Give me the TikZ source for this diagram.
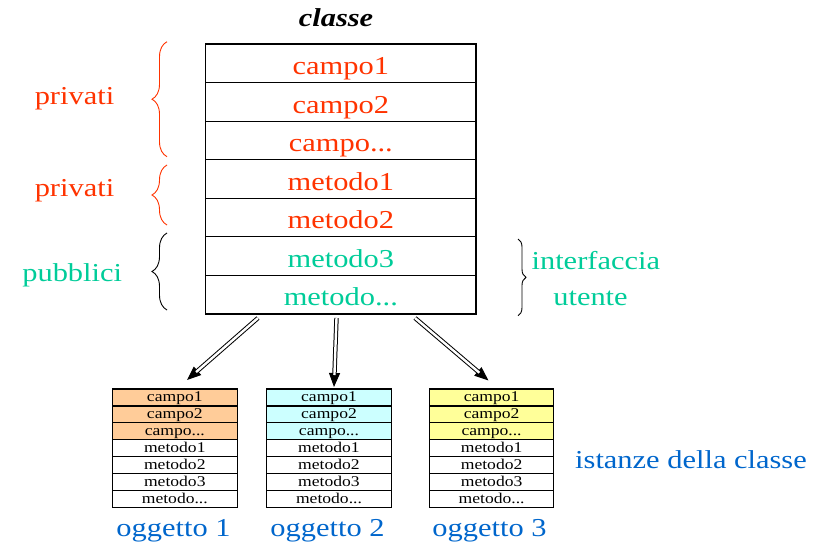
\documentclass[tikz,border=0pt]{standalone}
\usepackage{fontspec}
\setmainfont{Liberation Serif}[FakeStretch=1.18]
\usetikzlibrary{arrows.meta,decorations.pathreplacing}

\definecolor{privred}{HTML}{FF3300}
\definecolor{pubgreen}{HTML}{00CC99}
\definecolor{instblue}{HTML}{0066CC}
\definecolor{fillA}{HTML}{FFCC99}
\definecolor{fillB}{HTML}{CCFFFF}
\definecolor{fillC}{HTML}{FFFF99}

\newcommand\bigfont{\fontsize{25.8bp}{30bp}\selectfont}
\newcommand\smallfont{\fontsize{14.9bp}{17bp}\selectfont}

\tikzset{
  classrow/.style={draw, line width=1.1bp, minimum width=270.3bp,
    minimum height=38.57bp, inner sep=0pt, outer sep=0pt,
    text height=22.4bp, text depth=0pt, font=\bigfont, anchor=north west},
  objrow/.style={draw, line width=1.1bp, minimum width=124.6bp,
    minimum height=16.96bp, inner sep=0pt, outer sep=0pt,
    text height=9bp, text depth=0pt, font=\smallfont, anchor=north west},
  txt/.style={font=\bigfont, anchor=base, inner sep=0pt},
  sidebrace/.style={decorate, decoration={brace, amplitude=#1}, line width=0.9bp},
  % arrow head drawn first, double shaft laid over it
  inherittip/.style={line width=1bp, -{Triangle[length=14bp,width=11bp]}},
  inheritshaft/.style={double, double distance=2.4bp, line width=1bp,
    shorten >=12bp}
}

\begin{document}
\begin{tikzpicture}[x=1bp, y=-1bp]
\useasboundingbox (0,0) rectangle (828,547);

% class title
\node[txt] (title) at (336,26.7) {\textbf{\textit{classe}}};

% class members
\node[classrow, text=privred]  (r1) at (205.7,44) {campo1};
\node[classrow, text=privred]  (r2) at (r1.south west) {campo2};
\node[classrow, text=privred]  (r3) at (r2.south west) {campo...};
\node[classrow, text=privred]  (r4) at (r3.south west) {metodo1};
\node[classrow, text=privred]  (r5) at (r4.south west) {metodo2};
\node[classrow, text=pubgreen] (r6) at (r5.south west) {metodo3};
\node[classrow, text=pubgreen] (r7) at (r6.south west) {metodo...};

% visibility braces and labels
\draw[sidebrace=15bp, privred] (167,156.7) -- (167,41.7);
\draw[sidebrace=15bp, privred] (167,225) -- (167,165);
\draw[sidebrace=15bp, black]   (167,310) -- (167,233);
\draw[sidebrace=8bp, black]    (518,239) -- (518,315.7);

\node[txt, text=privred]  (priv1) at (74.5,105) {privati};
\node[txt, text=privred]  (priv2) at (74.5,197) {privati};
\node[txt, text=pubgreen] (pub)   at (72.2,281.7) {pubblici};
\node[txt, text=pubgreen] (intf)  at (595.8,270) {interfaccia};
\node[txt, text=pubgreen] (user)  at (590.5,305.7) {utente};

% instances
\foreach \b/\x/\col in {1/112.5/fillA, 2/266.7/fillB, 3/429.3/fillC}{
  \node[objrow, fill=\col] (o\b r1) at (\x,389) {campo1};
  \node[objrow, fill=\col] (o\b r2) at (o\b r1.south west) {campo2};
  \node[objrow, fill=\col] (o\b r3) at (o\b r2.south west) {campo...};
  \node[objrow] (o\b r4) at (o\b r3.south west) {metodo1};
  \node[objrow] (o\b r5) at (o\b r4.south west) {metodo2};
  \node[objrow] (o\b r6) at (o\b r5.south west) {metodo3};
  \node[objrow] (o\b r7) at (o\b r6.south west) {metodo...};
}

\node[txt, text=instblue] (obj1) at (173.5,536) {oggetto 1};
\node[txt, text=instblue] (obj2) at (327.5,536) {oggetto 2};
\node[txt, text=instblue] (obj3) at (489.5,536) {oggetto 3};
\node[txt, text=instblue] (inst) at (691,468.3) {istanze della classe};

% instantiation arrows
\coordinate (a1s) at (258,318);   \coordinate (a1e) at (187,380);
\coordinate (a2s) at (336.5,318); \coordinate (a2e) at (334,387);
\coordinate (a3s) at (415,318);   \coordinate (a3e) at (488.5,380.5);
\foreach \k in {1,2,3}{
  \draw[inherittip]   (a\k s) -- (a\k e);
  \draw[inheritshaft] (a\k s) -- (a\k e);
}
\end{tikzpicture}
\end{document}
